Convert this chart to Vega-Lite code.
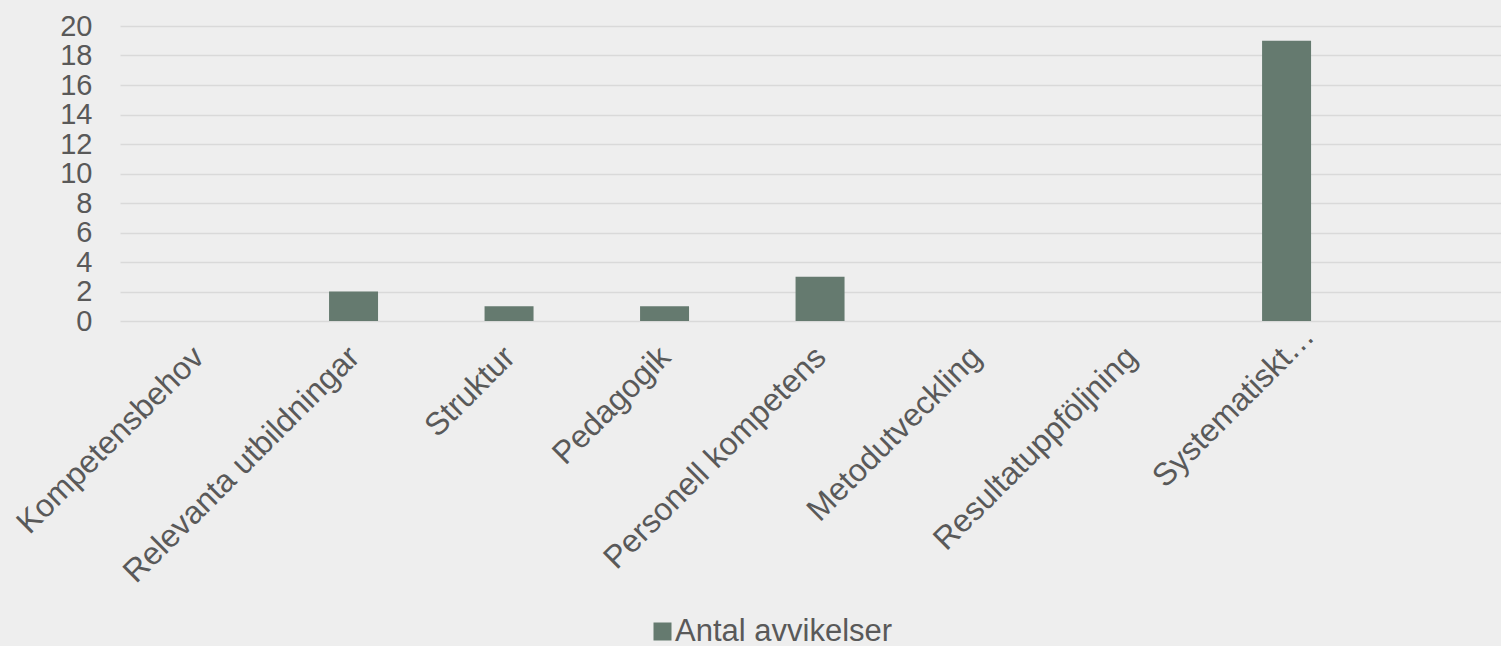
{
  "$schema": "https://vega.github.io/schema/vega-lite/v6.json",
  "autosize": {"type": "none"},
  "padding": {"left": 120, "top": 26, "right": 0, "bottom": 325},
  "width": 1381,
  "height": 295,
  "background": "#EEEEEE",
  "config": {
    "view": {"stroke": null},
    "font": "Liberation Sans"
  },
  "data": {
    "values": [
      {"kategori": "Kompetensbehov", "antal": 0, "serie": "Antal avvikelser"},
      {"kategori": "Relevanta utbildningar", "antal": 2, "serie": "Antal avvikelser"},
      {"kategori": "Struktur", "antal": 1, "serie": "Antal avvikelser"},
      {"kategori": "Pedagogik", "antal": 1, "serie": "Antal avvikelser"},
      {"kategori": "Personell kompetens", "antal": 3, "serie": "Antal avvikelser"},
      {"kategori": "Metodutveckling", "antal": 0, "serie": "Antal avvikelser"},
      {"kategori": "Resultatuppföljning", "antal": 0, "serie": "Antal avvikelser"},
      {"kategori": "Systematiskt…", "antal": 19, "serie": "Antal avvikelser"}
    ]
  },
  "mark": {"type": "bar"},
  "encoding": {
    "x": {
      "field": "kategori",
      "type": "nominal",
      "sort": null,
      "title": null,
      "scale": {"range": [0, 1400], "paddingInner": 0.685, "paddingOuter": 0.844, "align": 0.204},
      "axis": {
        "labelAngle": -45,
        "labelFontSize": 32,
        "labelColor": "#595959",
        "labelPadding": {"condition": {"test": "datum.value === 'Systematiskt…'", "value": -1}, "value": 20},
        "labelOffset": {"condition": {"test": "datum.value === 'Systematiskt…'", "value": 12}, "value": -10},
        "ticks": false,
        "domain": false,
        "grid": false,
        "labelLimit": 600,
        "labelOverlap": false
      }
    },
    "y": {
      "field": "antal",
      "type": "quantitative",
      "title": null,
      "scale": {"domain": [0, 20], "nice": false},
      "axis": {
        "values": [0, 2, 4, 6, 8, 10, 12, 14, 16, 18, 20],
        "labelFontSize": 29,
        "labelColor": "#595959",
        "labelPadding": 28,
        "labelOverlap": false,
        "ticks": false,
        "domain": false,
        "grid": true,
        "gridColor": "#D9D9D9",
        "gridWidth": 1.5
      }
    },
    "color": {
      "field": "serie",
      "type": "nominal",
      "scale": {"range": ["#657A6F"]},
      "legend": {
        "title": null,
        "orient": "none",
        "legendX": 527,
        "legendY": 590,
        "symbolType": "square",
        "symbolSize": 324,
        "symbolStrokeWidth": 0,
        "labelFontSize": 31,
        "labelColor": "#595959",
        "labelOffset": -3,
        "labelLimit": 500
      }
    }
  }
}
